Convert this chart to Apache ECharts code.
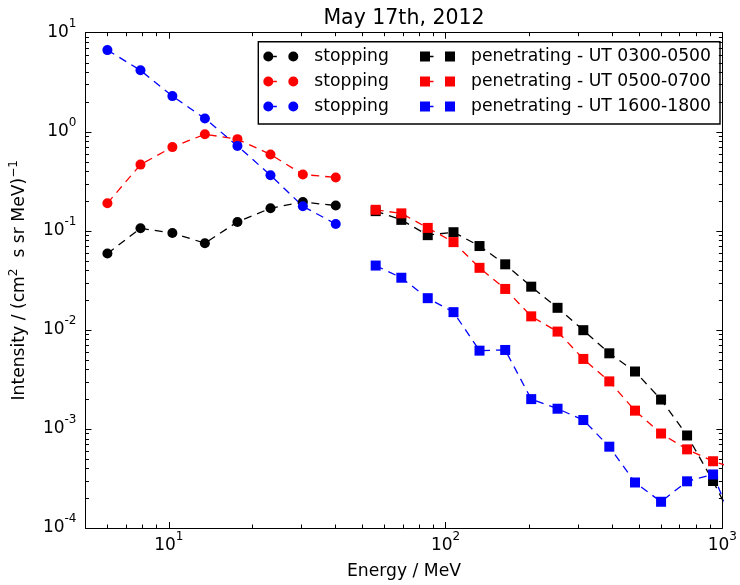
<!DOCTYPE html>
<html>
<head>
<meta charset="utf-8">
<script src="https://cdn.jsdelivr.net/npm/echarts@6/dist/echarts.min.js"></script>
<style>
  html, body { margin: 0; padding: 0; background: #fff; }
  #chart { width: 740px; height: 585px; }
</style>
</head>
<body>
<div id="chart"></div>
<script>
// Proton intensity spectra, May 17th 2012 (GLE event)
const stopEnergy = [6.0, 7.9, 10.3, 13.5, 17.7, 23.3, 30.5, 40.1];
const stopBlack = [0.059, 0.106, 0.095, 0.075, 0.123, 0.169, 0.195, 0.180];
const stopRed = [0.19, 0.466, 0.70, 0.944, 0.842, 0.59, 0.37, 0.346];
const stopBlue = [6.67, 4.17, 2.29, 1.36, 0.72, 0.364, 0.177, 0.117];

const penEnergy = [55.9, 69.2, 86.2, 106.8, 132.6, 164.2, 203.9, 253.8, 314.5, 390.4, 483.4, 600.5, 745.6, 925.5, 1147];
const penBlack = [0.158, 0.129, 0.0904, 0.0968, 0.0702, 0.0459, 0.0273, 0.0167, 0.00993, 0.0058, 0.0038, 0.00198, 0.000859, 0.000298, 0.00009];
const penRed = [0.163, 0.150, 0.107, 0.0769, 0.0423, 0.0259, 0.0137, 0.00961, 0.00509, 0.00302, 0.00153, 0.000899, 0.000622, 0.000472, 0.00039];
const penBlue = [0.0446, 0.0336, 0.0209, 0.0151, 0.00617, 0.00627, 0.0020, 0.0016, 0.00123, 0.000662, 0.000288, 0.000184, 0.000296, 0.000347, 0.000082];

const periods = ['UT 0300-0500', 'UT 0500-0700', 'UT 1600-1800'];
const colors = ['#000000', '#ff0000', '#0000ff'];

const xRange = [5, 1000];
const yRange = [1e-4, 10];

const FONT = 'DejaVu Sans';

function pairs(xs, ys) { return xs.map((x, i) => [x, ys[i]]); }

// "10^n" label for decades only
function decadeLabel(v) {
  const e = Math.log10(v);
  const r = Math.round(e);
  if (Math.abs(e - r) > 1e-6) return '';
  return '{b|10}{s|' + (r < 0 ? '-' + (-r) : String(r)) + '}';
}

const tickRich = {
  b: { fontSize: 17, lineHeight: 30, fontFamily: FONT, color: '#000' },
  s: { fontSize: 12, lineHeight: 12, verticalAlign: 'top', fontFamily: FONT, color: '#000' }
};

function lineSeries(name, symbol, color, data) {
  return {
    name: name,
    type: 'line',
    data: data,
    symbol: symbol,
    symbolSize: 10,
    showSymbol: true,
    clip: true,
    itemStyle: { color: color, borderWidth: 0 },
    lineStyle: { color: color, width: 1.3, type: [8, 6] },
    emphasis: { disabled: true },
    animation: false
  };
}

const stopNames = periods.map(p => 'stopping ' + p);
const penNames = periods.map(p => 'penetrating - ' + p);

const series = [
  lineSeries(stopNames[0], 'circle', colors[0], pairs(stopEnergy, stopBlack)),
  lineSeries(stopNames[1], 'circle', colors[1], pairs(stopEnergy, stopRed)),
  lineSeries(stopNames[2], 'circle', colors[2], pairs(stopEnergy, stopBlue)),
  lineSeries(penNames[0], 'rect', colors[0], pairs(penEnergy, penBlack)),
  lineSeries(penNames[1], 'rect', colors[1], pairs(penEnergy, penRed)),
  lineSeries(penNames[2], 'rect', colors[2], pairs(penEnergy, penBlue))
];

// legend handles: two markers joined by a short dash
const circleHandle = 'path://M0,5A5,5,0,1,0,10,5A5,5,0,1,0,0,5ZM10,4.35L13.5,4.35L13.5,5.65L10,5.65ZM25,5A5,5,0,1,0,35,5A5,5,0,1,0,25,5Z';
const squareHandle = 'path://M0,0L10,0L10,10L0,10ZM10,4.35L13.5,4.35L13.5,5.65L10,5.65ZM25,0L35,0L35,10L25,10Z';

const legendText = { fontSize: 17.2, lineHeight: 17, fontFamily: FONT, color: '#000', padding: [0, 0, 0, 11] };

function baseAxis(pos, range, showLabel) {
  return {
    type: 'log',
    logBase: 10,
    position: pos,
    min: range[0],
    max: range[1],
    axisLine: { show: true, onZero: false, lineStyle: { color: '#000', width: 1 } },
    axisTick: { show: true, inside: true, length: 6, lineStyle: { color: '#000', width: 1 } },
    splitLine: { show: false },
    minorTick: { show: false },
    axisLabel: showLabel ? {
      show: true, formatter: decadeLabel, rich: tickRich, fontFamily: FONT, color: '#000'
    } : { show: false }
  };
}

const xBottom = Object.assign(baseAxis('bottom', xRange, true), {
  name: 'Energy / MeV', nameLocation: 'middle', nameGap: 35,
  nameTextStyle: { fontSize: 17.2, fontFamily: FONT, color: '#000' }
});
xBottom.axisLabel.margin = 3;
const xTop = baseAxis('top', xRange, false);

const yLeft = Object.assign(baseAxis('left', yRange, true), {
  name: 'Intensity / (cm{s|2}  s sr MeV){s|\u22121}', nameLocation: 'middle', nameGap: 47, nameRotate: 90,
  nameTextStyle: {
    fontSize: 17.2, lineHeight: 24, fontFamily: FONT, color: '#000',
    rich: { s: { fontSize: 12, lineHeight: 12, verticalAlign: 'top', fontFamily: FONT, color: '#000' } }
  }
});
yLeft.axisLabel.margin = 9;
const yRight = baseAxis('right', yRange, false);

const chart = echarts.init(document.getElementById('chart'), null, { renderer: 'canvas' });

const option = {
  backgroundColor: '#ffffff',
  animation: false,
  title: {
    text: 'May 17th, 2012',
    left: 404,
    top: 8,
    padding: 0,
    textAlign: 'center',
    textStyle: { fontSize: 20.5, fontWeight: 'normal', fontFamily: FONT, color: '#000' }
  },
  grid: { left: 81, right: 13.3, top: 32.7, bottom: 51.7 },
  xAxis: [xBottom, Object.assign(xTop, { gridIndex: 0 })],
  yAxis: [yLeft, Object.assign(yRight, { gridIndex: 0 })],
  legend: [
    {
      data: stopNames, orient: 'vertical', left: 263.3, top: 48, padding: 0,
      itemGap: 8, itemWidth: 35, itemHeight: 10, icon: circleHandle,
      selectedMode: false, textStyle: legendText, formatter: () => 'stopping'
    },
    {
      data: penNames, orient: 'vertical', left: 420, top: 48, padding: 0,
      itemGap: 8, itemWidth: 35, itemHeight: 10, icon: squareHandle,
      selectedMode: false, textStyle: legendText
    }
  ],
  series: series
};
chart.setOption(option);

// legend frame plus minor ticks on all four sides (positions from the axis scales)
function minorValues(lo, hi) {
  const out = [];
  for (let e = Math.floor(Math.log10(lo)); e <= Math.ceil(Math.log10(hi)); e++) {
    for (let k = 2; k <= 9; k++) {
      const v = k * Math.pow(10, e);
      if (v > lo * 1.0001 && v < hi * 0.9999) out.push(v);
    }
  }
  return out;
}

const x0 = chart.convertToPixel({ xAxisIndex: 0 }, xRange[0]);
const x1 = chart.convertToPixel({ xAxisIndex: 0 }, xRange[1]);
const yB = chart.convertToPixel({ yAxisIndex: 0 }, yRange[0]);
const yT = chart.convertToPixel({ yAxisIndex: 0 }, yRange[1]);
const MINOR = 3.5;
const tickStyle = { stroke: '#000', lineWidth: 1 };
const elements = [];

minorValues(xRange[0], xRange[1]).forEach(v => {
  const px = Math.round(chart.convertToPixel({ xAxisIndex: 0 }, v)) + 0.5;
  elements.push({ type: 'line', shape: { x1: px, y1: yB, x2: px, y2: yB - MINOR }, style: tickStyle, silent: true, z: 5 });
  elements.push({ type: 'line', shape: { x1: px, y1: yT, x2: px, y2: yT + MINOR }, style: tickStyle, silent: true, z: 5 });
});
minorValues(yRange[0], yRange[1]).forEach(v => {
  const py = Math.round(chart.convertToPixel({ yAxisIndex: 0 }, v)) + 0.5;
  elements.push({ type: 'line', shape: { x1: x0, y1: py, x2: x0 + MINOR, y2: py }, style: tickStyle, silent: true, z: 5 });
  elements.push({ type: 'line', shape: { x1: x1, y1: py, x2: x1 - MINOR, y2: py }, style: tickStyle, silent: true, z: 5 });
});

elements.push({
  type: 'rect',
  shape: { x: 258.3, y: 41.7, width: 461.7, height: 82.3 },
  style: { fill: '#ffffff', stroke: '#000', lineWidth: 1.4 },
  silent: true,
  z: 0
});

chart.setOption({ graphic: { elements: elements } });
</script>
</body>
</html>
